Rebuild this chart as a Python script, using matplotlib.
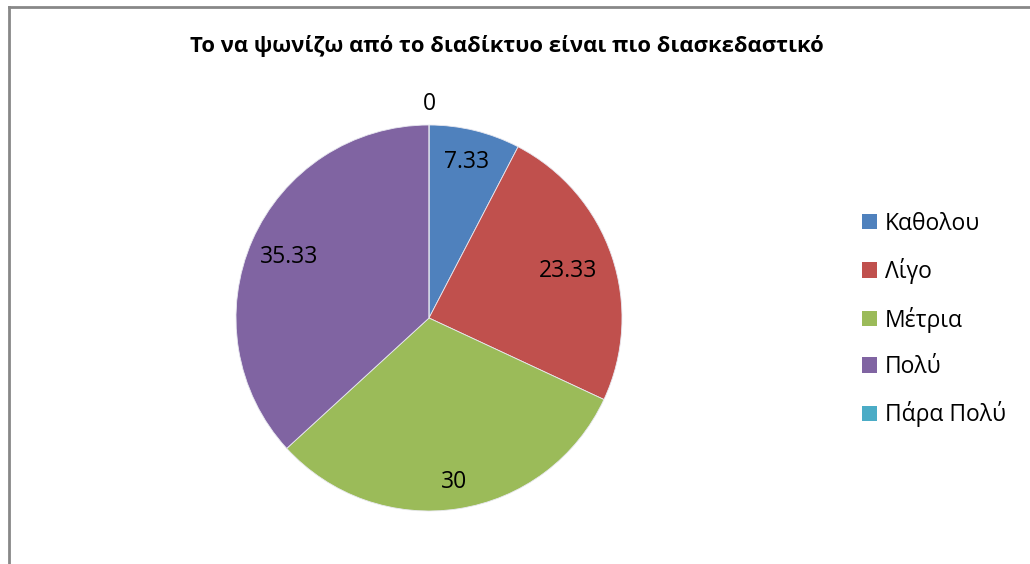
import numpy as np
import matplotlib.pyplot as plt
from matplotlib.lines import Line2D
from matplotlib.patches import Patch

plt.rcParams['font.family'] = ['Open Sans', 'DejaVu Sans']

# survey answers and shares (%)
categories = ['Καθολου', 'Λίγο', 'Μέτρια', 'Πολύ', 'Πάρα Πολύ']
values = [7.33, 23.33, 30, 35.33, 0]
value_labels = ['7.33', '23.33', '30', '35.33', '0']
colors = ['#4F81BD', '#C0504D', '#9BBB59', '#8064A2', '#4BACC6']
title = 'Το να ψωνίζω από το διαδίκτυο είναι πιο διασκεδαστικό'

W, H = 1030, 564
fig = plt.figure(figsize=(W / 100, H / 100), dpi=100)

# pie centred at (429, 318) px with radius 193 px
cx, cy, r = 429, 318, 193
ax = fig.add_axes([(cx - r) / W, 1 - (cy + r) / H, 2 * r / W, 2 * r / H])
wedges, _ = ax.pie(values, colors=colors, startangle=90, counterclock=False,
                   wedgeprops=dict(edgecolor='#e8e8f0', linewidth=0.6))
ax.set_xlim(-1, 1)
ax.set_ylim(-1, 1)
ax.set_aspect('equal')
ax.axis('off')

# value labels along the middle angle of each slice
label_dist = [0.83, 0.76, 0.86, 0.79, 1.11]
total = sum(values)
start = 90.0
for v, lab, d in zip(values, value_labels, label_dist):
    sweep = v / total * 360
    mid = np.deg2rad(start - sweep / 2)
    ax.text(d * np.cos(mid), d * np.sin(mid), lab, ha='center', va='center',
            fontsize=16.5, color='black')
    start -= sweep

fig.text(0.5 - 8 / W, 1 - 46 / H, title, ha='center', va='center',
         fontsize=15.8, fontweight='bold')

handles = [Patch(facecolor=c, edgecolor='none') for c in colors]
fig.legend(handles, categories, loc='upper left',
           bbox_to_anchor=(841 / W, 1 - 191 / H), frameon=False,
           fontsize=16.5, labelspacing=0.98, handlelength=0.66, handleheight=0.66,
           handletextpad=0.35)

# chart frame
fig.add_artist(Line2D([8.5 / W, 8.5 / W], [0, 1 - 6.5 / H], color='#888888', lw=2))
fig.add_artist(Line2D([8.5 / W, 1], [1 - 6.5 / H, 1 - 6.5 / H], color='#888888', lw=2))

fig.savefig('out.png', dpi=100)
